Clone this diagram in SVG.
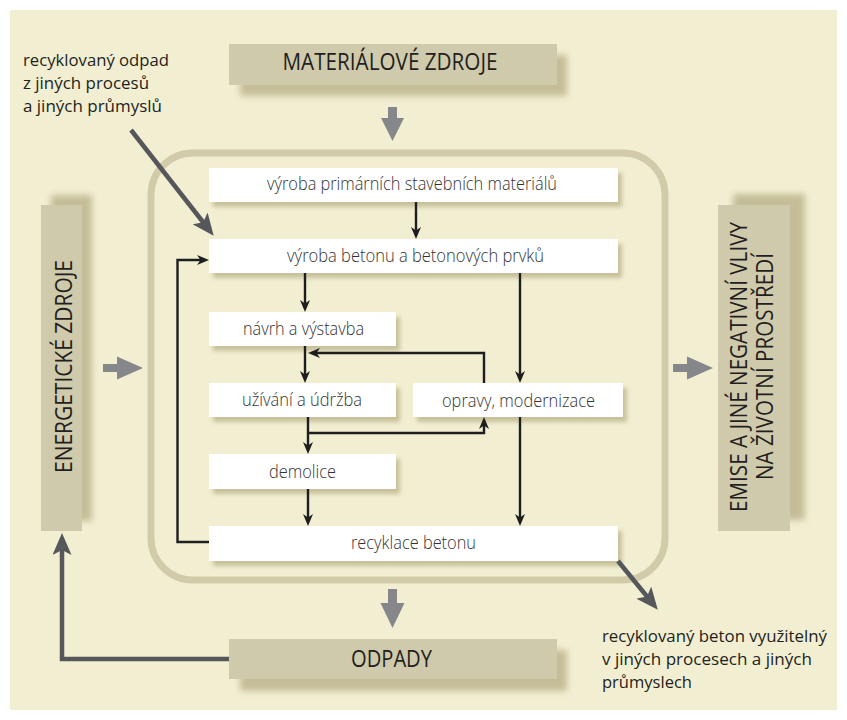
<svg xmlns="http://www.w3.org/2000/svg" width="847" height="720" viewBox="0 0 847 720">
<defs>
<style>
.bg{fill:#f2eed2}
.bx{fill:#ffffff;filter:url(#ds)}
.tan{fill:#cfcaab}
.tsh{fill:#c4bd97;filter:url(#bl)}
.lbl{font-family:"Open Sans","Liberation Sans",sans-serif;font-size:18px;font-weight:300;fill:#333333;text-anchor:middle}
.ttl{font-family:"Open Sans","Liberation Sans",sans-serif;font-size:23px;fill:#231f20;text-anchor:middle}
.note{font-family:"Open Sans","Liberation Sans",sans-serif;font-size:17px;fill:#231f20}
.ar{fill:none;stroke:#1e1e1e;stroke-width:2.4;marker-end:url(#ah)}
.gl{fill:none;stroke:#56575b;stroke-width:4.5;marker-end:url(#gh)}
.blk{fill:#86878a}
</style>
<filter id="ds" x="-10%" y="-30%" width="125%" height="180%">
<feDropShadow dx="4" dy="5" stdDeviation="2.2" flood-color="#c2bb94" flood-opacity="0.9"/>
</filter>
<filter id="bl" x="-20%" y="-20%" width="140%" height="140%">
<feGaussianBlur stdDeviation="3"/>
</filter>
<marker id="ah" markerWidth="12" markerHeight="10" refX="8" refY="5" orient="auto" markerUnits="userSpaceOnUse">
<path d="M0,0 L12,5 L0,10 L3.5,5 z" fill="#1e1e1e"/>
</marker>
<marker id="gh" markerWidth="22" markerHeight="19" refX="16" refY="9.5" orient="auto" markerUnits="userSpaceOnUse">
<path d="M0,0 L22,9.5 L0,19 L5,9.5 z" fill="#56575b"/>
</marker>
</defs>

<rect class="bg" x="10" y="10" width="827" height="700"/>

<!-- container -->
<rect x="151" y="153" width="514" height="427" rx="42" ry="42" fill="none" stroke="#d1cbaa" stroke-width="7"/>

<!-- outer resource boxes -->
<g id="materialove-zdroje">
<rect class="tsh" x="240" y="55" width="327" height="41"/>
<rect class="tan" x="229" y="44" width="328" height="41"/>
<text class="ttl" x="390" y="70" textLength="215" lengthAdjust="spacingAndGlyphs">MATERIÁLOVÉ ZDROJE</text>
</g>
<g id="energeticke-zdroje">
<rect class="tsh" x="51" y="195" width="41" height="326"/>
<rect class="tan" x="41" y="205" width="41" height="326"/>
<text class="ttl" transform="translate(72,366.5) rotate(-90)" x="0" y="0" textLength="213" lengthAdjust="spacingAndGlyphs">ENERGETICKÉ ZDROJE</text>
</g>
<g id="emise">
<rect class="tsh" x="733" y="194" width="72" height="326"/>
<rect class="tan" x="718" y="205" width="72" height="326"/>
<text class="ttl" transform="translate(747,367) rotate(-90)" x="0" y="0" textLength="290" lengthAdjust="spacingAndGlyphs">EMISE A JINÉ NEGATIVNÍ VLIVY</text>
<text class="ttl" transform="translate(773,366.5) rotate(-90)" x="0" y="0" textLength="227" lengthAdjust="spacingAndGlyphs">NA ŽIVOTNÍ PROSTŘEDÍ</text>
</g>
<g id="odpady">
<rect class="tsh" x="240" y="650" width="327" height="41"/>
<rect class="tan" x="229" y="639" width="328" height="40"/>
<text class="ttl" x="391.5" y="667" textLength="81" lengthAdjust="spacingAndGlyphs">ODPADY</text>
</g>

<!-- block arrows -->
<g id="block-arrows">
<polygon class="blk" points="388,107 397,107 397,118 404,118 392.5,141 381,118 388,118"/>
<polygon class="blk" points="388,589 397,589 397,603 404.5,603 392.5,628 380.5,603 388,603"/>
<polygon class="blk" points="103,364 117,364 117,356.5 143,368 117,379.5 117,372 103,372"/>
<polygon class="blk" points="673,364 687,364 687,356.5 713,368 687,379.5 687,372 673,372"/>
</g>

<!-- process nodes -->
<g id="n-vyroba-primarnich">
<rect class="bx" x="209" y="168" width="409" height="34"/>
<text class="lbl" x="412" y="190" textLength="290" lengthAdjust="spacingAndGlyphs">výroba primárních stavebních materiálů</text>
</g>
<g id="n-vyroba-betonu">
<rect class="bx" x="209" y="239" width="409" height="34"/>
<text class="lbl" x="415.5" y="262" textLength="257" lengthAdjust="spacingAndGlyphs">výroba betonu a betonových prvků</text>
</g>
<g id="n-navrh">
<rect class="bx" x="209" y="312" width="187" height="34"/>
<text class="lbl" x="303.5" y="335" textLength="121" lengthAdjust="spacingAndGlyphs">návrh a výstavba</text>
</g>
<g id="n-uzivani">
<rect class="bx" x="209" y="383" width="187" height="34"/>
<text class="lbl" x="302" y="406" textLength="120" lengthAdjust="spacingAndGlyphs">užívání a údržba</text>
</g>
<g id="n-opravy">
<rect class="bx" x="413" y="383" width="210" height="34"/>
<text class="lbl" x="518.5" y="407" textLength="153" lengthAdjust="spacingAndGlyphs">opravy, modernizace</text>
</g>
<g id="n-demolice">
<rect class="bx" x="209" y="454" width="187" height="35"/>
<text class="lbl" x="302.5" y="478" textLength="67" lengthAdjust="spacingAndGlyphs">demolice</text>
</g>
<g id="n-recyklace">
<rect class="bx" x="209" y="526" width="409" height="35"/>
<text class="lbl" x="413.5" y="549" textLength="125" lengthAdjust="spacingAndGlyphs">recyklace betonu</text>
</g>

<!-- notes -->
<g id="note-left">
<text class="note" x="23" y="66" textLength="146" lengthAdjust="spacingAndGlyphs">recyklovaný odpad</text>
<text class="note" x="23" y="89" textLength="126" lengthAdjust="spacingAndGlyphs">z jiných procesů</text>
<text class="note" x="23" y="112" textLength="139" lengthAdjust="spacingAndGlyphs">a jiných průmyslů</text>
</g>
<g id="note-right">
<text class="note" x="602" y="642" textLength="225" lengthAdjust="spacingAndGlyphs">recyklovaný beton využitelný</text>
<text class="note" x="602" y="665" textLength="210" lengthAdjust="spacingAndGlyphs">v jiných procesech a jiných</text>
<text class="note" x="602" y="688" textLength="90" lengthAdjust="spacingAndGlyphs">průmyslech</text>
</g>

<!-- connectors -->
<g id="connectors">
<path class="ar" d="M416,202 V235"/>
<path class="ar" d="M305,273 V308"/>
<path class="ar" d="M520,273 V379"/>
<path class="ar" d="M305,346 V379"/>
<path class="ar" d="M484,383 V353 H312"/>
<path class="ar" d="M308,417 V450"/>
<path class="ar" d="M308,433 H484 V421"/>
<path class="ar" d="M308,489 V522"/>
<path class="ar" d="M520,417 V522"/>
<path class="ar" d="M209,542 H177.5 V260 H205"/>
<path class="gl" d="M131,130 L210,231"/>
<path class="gl" d="M618,561 L654,605"/>
<path class="gl" d="M229,659 H62 V539" stroke-linejoin="miter"/>
</g>
</svg>
